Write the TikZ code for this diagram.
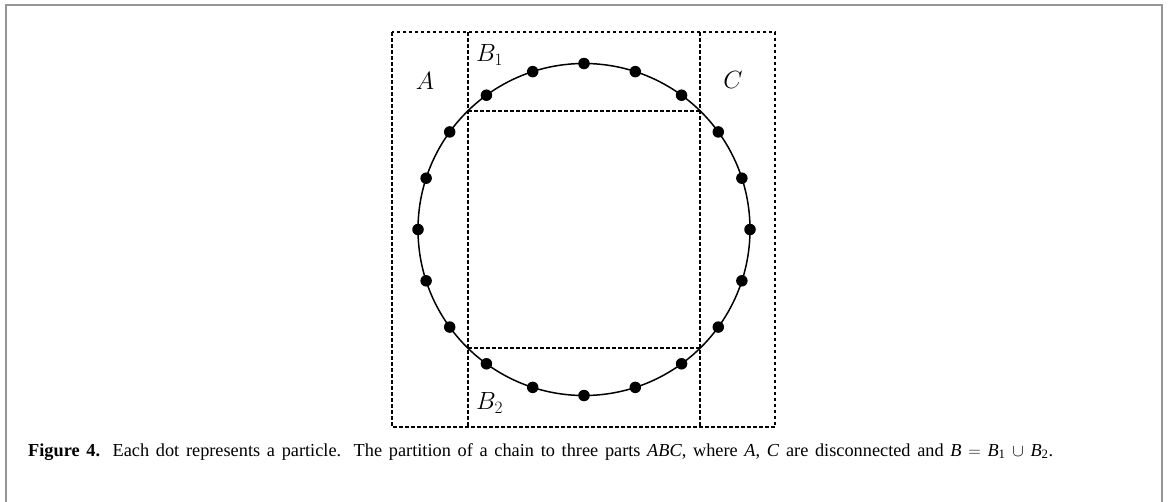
\documentclass[tikz,border=0pt]{standalone}
\usepackage{fontspec}
\setmainfont{Liberation Serif}
\usetikzlibrary{calc}
\definecolor{framegray}{RGB}{150,150,150}
\begin{document}
\begin{tikzpicture}[x=1pt,y=-1pt,
  dot/.style={circle,fill=black,inner sep=0pt,minimum size=11.5pt},
  part/.style={draw=black,line width=1.1pt,dash pattern=on 3.5pt off 2.5pt},
  chain/.style={draw=black,line width=1.5pt},
  biglabel/.style={font=\fontsize{31}{33}\selectfont,inner sep=0pt},
  smalllabel/.style={font=\fontsize{23}{25}\selectfont,inner sep=0pt,anchor=west}]
\useasboundingbox (0,0) rectangle (1168,501);
\draw[framegray,line width=2pt] (6,515) -- (6,5) -- (1162,5) -- (1162,515);
% partition boxes
\coordinate (tl) at (392,32);
\coordinate (br) at (775,427);
\draw[part] (tl) rectangle (br);
\draw[part] (468,32) -- (468,427);
\draw[part] (700,32) -- (700,427);
\draw[part] (468,111) -- (700,111);
\draw[part] (468,348) -- (700,348);
% chain
\coordinate (c) at (584,229.5);
\draw[chain] (c) circle[radius=166];
\foreach \i in {0,...,19} {
  \node[dot] (p\i) at ($(c)+({\i*18}:166 and -166)$) {};
}
% labels
\node[biglabel] (la) at (425,81) {$A$};
\node[biglabel] (lc) at (733,80) {$C$};
\node[smalllabel] (lb1) at (476,55) {$B_1$};
\node[smalllabel] (lb2) at (476,403) {$B_2$};
% caption
\node[anchor=base west,inner sep=0pt,font=\fontsize{18.3}{21}\selectfont] (cap) at (28,456)
 {\makebox[1025pt][s]{\textbf{Figure 4.} Each dot represents a particle. The partition of a chain to three parts \textit{ABC}, where \textit{A}, \textit{C} are disconnected and \textit{B} $=$ \textit{B}\textsubscript{1} $\cup$ \textit{B}\textsubscript{2}.}};
\end{tikzpicture}
\end{document}
